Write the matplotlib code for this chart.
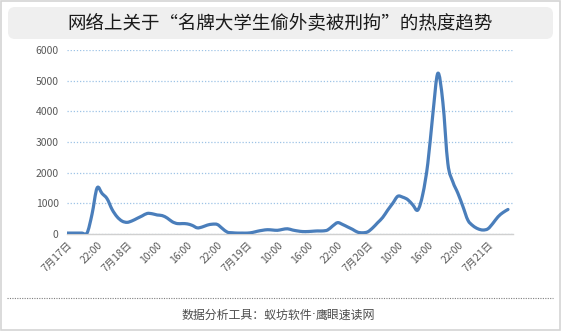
import matplotlib
matplotlib.use("Agg")
import matplotlib.pyplot as plt
from matplotlib.patches import FancyBboxPatch, Rectangle, PathPatch
from matplotlib.path import Path

plt.rcParams['font.family'] = ['Noto Sans CJK SC', 'DejaVu Sans']

title = "网络上关于“名牌大学生偷外卖被刑拘”的热度趋势"
footer_left = "数据分析工具：蚁坊软件"
footer_right = "鹰眼速读网"

# hourly heat values, starting 7月17日 16:00
heat = [30, 30, 30, 30, 30, 650, 1500, 1320, 1150, 800,
        560, 420, 380, 430, 510, 590, 670, 660, 620, 600,
        520, 400, 340, 340, 330, 280, 200, 230, 290, 320,
        310, 180, 60, 40, 30, 30, 30, 50, 90, 120,
        140, 130, 120, 150, 170, 130, 100, 80, 80, 90,
        100, 100, 130, 260, 370, 310, 230, 150, 60, 40,
        70, 200, 370, 540, 780, 1000, 1230, 1200, 1120, 950,
        780, 1300, 2300, 3900, 5240, 4300, 2300, 1700, 1330, 900,
        450, 270, 170, 130, 170, 350, 560, 700, 800]
tick_pos = list(range(0, 85, 6))
tick_labels = ["7月17日", "22:00", "7月18日", "10:00", "16:00", "22:00",
               "7月19日", "10:00", "16:00", "22:00", "7月20日", "10:00",
               "16:00", "22:00", "7月21日"]

W, H = 561, 331
fig = plt.figure(figsize=(W / 100, H / 100), dpi=100)

# background frame, title box and footer drawn in pixel units
bg = fig.add_axes([0, 0, 1, 1])
bg.set_xlim(0, W)
bg.set_ylim(H, 0)
bg.axis("off")
bg.add_patch(Rectangle((0.5, 0.5), W - 1.5, H - 1.5, fill=False,
                       edgecolor="#d4d4d4", linewidth=1.2))
bg.add_patch(FancyBboxPatch((8, 7), 545, 32, boxstyle="round,pad=0,rounding_size=7",
                            facecolor="#efefef", edgecolor="none"))
bg.text(W / 2, 23, title, ha="center", va="center", fontsize=13.3, color="#1a1a1a")
bg.plot([7, 553], [298, 298], linestyle=(0, (1, 1.2)), color="#7f7f7f", linewidth=0.8)
bg.text(312, 315, footer_left, ha="right", va="center", fontsize=8.6, color="#4d4d4d")
bg.text(314, 315, "·", ha="center", va="center", fontsize=8.6, color="#4d4d4d",
        family="DejaVu Sans")
bg.text(316, 315, footer_right, ha="left", va="center", fontsize=8.6, color="#4d4d4d")

ax = fig.add_axes([67 / W, 1 - 234 / H, (513 - 67) / W, (234 - 50) / H])
ax.patch.set_alpha(0)

# smoothed line like a spreadsheet "smooth line": cubic Bezier through every point
xs = list(range(len(heat)))
verts = [(xs[0], heat[0])]
codes = [Path.MOVETO]
n = len(heat)
for i in range(n - 1):
    i0 = max(i - 1, 0)
    i3 = min(i + 2, n - 1)
    c1 = (xs[i] + (xs[i + 1] - xs[i0]) / 6, heat[i] + (heat[i + 1] - heat[i0]) / 6)
    c2 = (xs[i + 1] - (xs[i3] - xs[i]) / 6, heat[i + 1] - (heat[i3] - heat[i]) / 6)
    verts += [c1, c2, (xs[i + 1], heat[i + 1])]
    codes += [Path.CURVE4] * 3
ax.add_patch(PathPatch(Path(verts, codes), facecolor="none", edgecolor="#4a7ebb",
                       linewidth=2.3, capstyle="round", joinstyle="round", zorder=3))

ax.set_xlim(0, 89)
ax.set_ylim(0, 6000)
ax.set_yticks(range(0, 6001, 1000))
ax.set_xticks(tick_pos)
ax.set_xticklabels(tick_labels, rotation=45, ha="right", rotation_mode="anchor")
ax.tick_params(axis="both", length=0, labelsize=7.5, labelcolor="#595959")
ax.tick_params(axis="x", pad=4)
ax.tick_params(axis="y", pad=6)
ax.yaxis.grid(True, linestyle=(0, (1, 1.5)), color="#9dc3e6", linewidth=0.9)
ax.xaxis.grid(False)
for side in ["top", "right", "left"]:
    ax.spines[side].set_visible(False)
ax.spines["bottom"].set_color("#d0d0d0")
ax.spines["bottom"].set_linewidth(1.0)

fig.savefig("out.png", dpi=100)
